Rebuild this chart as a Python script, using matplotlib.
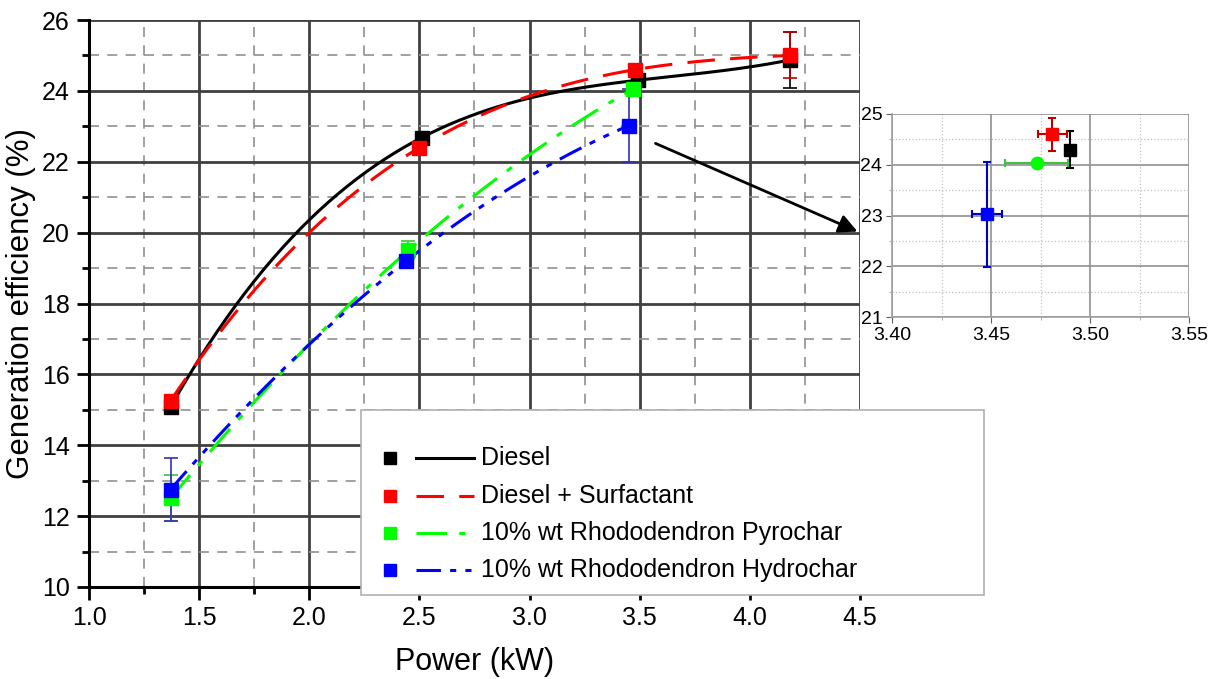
import numpy as np
import matplotlib
matplotlib.use('Agg')
import matplotlib.pyplot as plt
from matplotlib.lines import Line2D
from matplotlib.patches import Rectangle
from matplotlib.ticker import MultipleLocator

plt.rcParams['font.family'] = ['Liberation Sans', 'DejaVu Sans']

# Données
labels = ['Diesel', 'Diesel + Surfactant',
          '10% wt Rhododendron Pyrochar', '10% wt Rhododendron Hydrochar']
colors = ['black', '#ff0000', '#00ff00', '#0000ff']

diesel_x = [1.37, 2.51, 3.49, 4.18]
diesel_y = [15.08, 22.68, 24.30, 24.87]
diesel_err = [0.05, 0.08, 0.08, 0.80]

surf_x = [1.37, 2.50, 3.48, 4.18]
surf_y = [15.25, 22.40, 24.60, 25.00]
surf_err = [0.05, 0.15, 0.15, 0.65]

pyro_x = [1.37, 2.45, 3.47]
pyro_y = [12.50, 19.50, 24.05]
pyro_err = [0.65, 0.25, 0.10]

hydro_x = [1.37, 2.44, 3.45]
hydro_y = [12.75, 19.20, 23.02]
hydro_err = [0.88, 0.10, 1.03]

# Données de l'encart (zoom autour de 3.5 kW)
inset_x = [3.490, 3.481, 3.473, 3.448]
inset_y = [24.30, 24.60, 24.03, 23.02]
inset_xerr = [0.0, 0.0075, 0.016, 0.0075]
inset_yerr = [0.37, 0.32, 0.03, 1.03]

W, H = 1211, 679
fig = plt.figure(figsize=(W / 100, H / 100), dpi=100)


def fx(px):
    return px / W


def fy(py):
    return 1 - py / H


ax = fig.add_axes([fx(89), fy(587), fx(860) - fx(89), fy(20) - fy(587)])
ax.set_xlim(1.0, 4.5)
ax.set_ylim(10, 26)
ax.xaxis.set_minor_locator(MultipleLocator(0.25))
ax.yaxis.set_major_locator(MultipleLocator(2))
ax.yaxis.set_minor_locator(MultipleLocator(1))
ax.set_xticks(np.arange(1.0, 4.51, 0.5))
ax.set_xticklabels([f'{v:.1f}' for v in np.arange(1.0, 4.51, 0.5)])
ax.grid(which='major', color='#404040', lw=2.0, ls='-')
ax.grid(which='minor', color='#909090', lw=1.2, ls=(0, (6, 5)))
ax.set_axisbelow(True)
for s in ['top', 'right']:
    ax.spines[s].set_visible(False)
for s in ['left', 'bottom']:
    ax.spines[s].set_linewidth(2.2)
    ax.spines[s].set_color('black')
ax.tick_params(which='major', direction='out', length=9, width=2, labelsize=18, pad=5)
ax.tick_params(which='minor', direction='out', length=5, width=2)
ax.set_xlabel('Power (kW)', fontsize=22, labelpad=12)
ax.set_ylabel('Generation efficiency (%)', fontsize=22.5, labelpad=4)

series = [(diesel_x, diesel_y, diesel_err),
          (surf_x, surf_y, surf_err),
          (pyro_x, pyro_y, pyro_err),
          (hydro_x, hydro_y, hydro_err)]
styles = ['-', (0, (9, 5)), (0, (10, 4, 2, 4)), (0, (8, 3, 2, 3, 2, 3))]
err_colors = ['black', '#c00000', '#40c040', '#3030c0']

for (xs, ys, es), c, ls, ec in zip(series, colors, styles, err_colors):
    deg = len(xs) - 1
    coef = np.polyfit(xs, ys, deg)
    xx = np.linspace(xs[0], xs[-1], 200)
    ax.plot(xx, np.polyval(coef, xx), color=c, ls=ls, lw=2.2, zorder=4)
    ax.errorbar(xs, ys, yerr=es, fmt='none', ecolor=ec, elinewidth=1.2,
                capsize=5, capthick=1.2, zorder=3)
    ax.plot(xs, ys, 's', color=c, ms=10, zorder=5)

# Flèche vers l'encart
ax.annotate('', xy=(4.5, 20.0), xytext=(3.56, 22.55),
            arrowprops=dict(arrowstyle='-|>', color='black', lw=2,
                            mutation_scale=28),
            annotation_clip=False, zorder=6)

# Légende dessinée à la main
fig.patches.append(Rectangle((fx(361), fy(595)), fx(984) - fx(361), fy(410) - fy(595),
                             transform=fig.transFigure, facecolor='white',
                             edgecolor='#b0b0b0', lw=1.2, zorder=10))
leg_y = [458, 496, 533, 570]
for lab, c, ls, py in zip(labels, colors, styles, leg_y):
    fig.add_artist(Line2D([fx(390)], [fy(py)], marker='s', color=c, ms=9,
                          ls='none', transform=fig.transFigure, zorder=11))
    fig.add_artist(Line2D([fx(416), fx(474)], [fy(py), fy(py)], color=c, ls=ls,
                          lw=2.2, transform=fig.transFigure, zorder=11))
    fig.text(fx(481), fy(py), lab, fontsize=18, va='center', ha='left', zorder=12)

# Encart
ins = fig.add_axes([fx(892), fy(317), fx(1189) - fx(892), fy(114) - fy(317)])
ins.set_xlim(3.40, 3.55)
ins.set_ylim(21, 25)
ins.set_xticks([3.40, 3.45, 3.50, 3.55])
ins.set_xticklabels(['3.40', '3.45', '3.50', '3.55'])
ins.set_yticks([21, 22, 23, 24, 25])
ins.xaxis.set_minor_locator(MultipleLocator(0.025))
ins.yaxis.set_minor_locator(MultipleLocator(0.5))
ins.grid(which='major', color='#909090', lw=1.2)
ins.grid(which='minor', color='#c0c0c0', lw=0.9, ls=':')
ins.set_axisbelow(True)
for s in ['top', 'right']:
    ins.spines[s].set_visible(False)
for s in ['left', 'bottom']:
    ins.spines[s].set_color('#a0a0a0')
    ins.spines[s].set_linewidth(1.2)
ins.tick_params(which='major', direction='out', length=4, color='#606060', labelsize=14, pad=3)
ins.tick_params(which='minor', direction='out', length=2, color='#a0a0a0')
ins_ecol = ['black', '#c00000', '#40c040', '#0000c0']
ins_markers = ['s', 's', 'o', 's']
for xi, yi, xe, ye, c, ec, mk in zip(inset_x, inset_y, inset_xerr, inset_yerr,
                                     colors, ins_ecol, ins_markers):
    ins.errorbar([xi], [yi], xerr=[xe] if xe > 0 else None, yerr=[ye], fmt='none',
                 ecolor=ec, elinewidth=1.5, capsize=3, capthick=1.5, zorder=3)
    ins.plot([xi], [yi], mk, color=c, ms=9, zorder=4)

fig.savefig('out.png', dpi=100)
